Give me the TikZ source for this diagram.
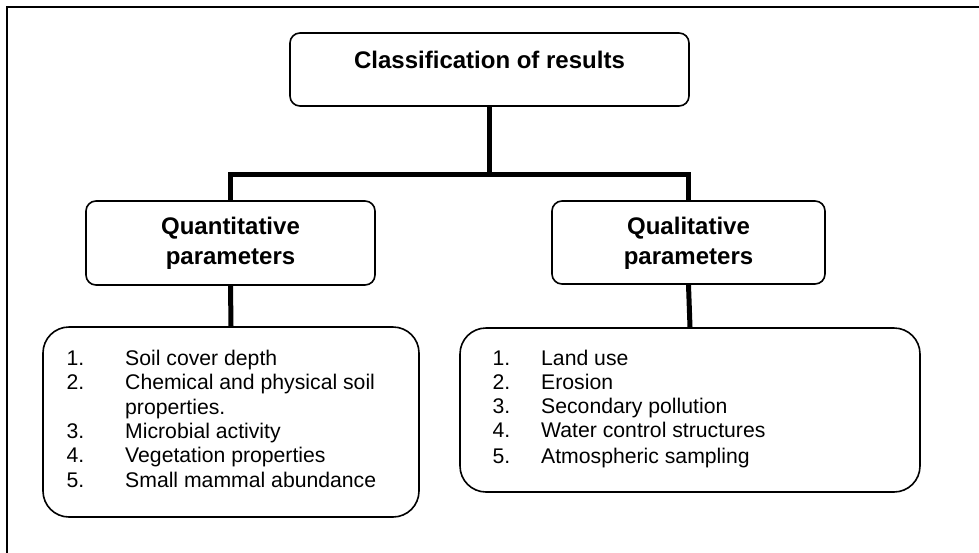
\documentclass[tikz,border=0pt]{standalone}
\usepackage{fontspec}
\setmainfont{Liberation Sans}
\begin{document}
\begin{tikzpicture}[x=1pt,y=-1pt,
  box/.style={draw, line width=1.6pt, rounded corners=10pt, inner sep=0pt, anchor=center},
  listbox/.style={draw, line width=1.6pt, rounded corners=26pt, inner sep=0pt, anchor=center},
  conn/.style={line width=5pt, line join=miter},
  frameline/.style={line width=2.5pt},
  head/.style={inner sep=0pt, anchor=base, font=\bfseries\fontsize{24}{30}\selectfont},
  item/.style={inner sep=0pt, anchor=base west, font=\fontsize{21.2}{24.3}\selectfont}]
\useasboundingbox (0,0) rectangle (979,552);
\clip (0,0) rectangle (979,552);
\fill[white] (0,0) rectangle (979,552);
\draw[frameline] (7,560) -- (7,7) -- (990,7);
% boxes
\node[box, minimum width=399pt, minimum height=73pt] (top) at (489.5,69.5) {};
\node[box, minimum width=289pt, minimum height=84pt] (qn) at (230.5,243) {};
\node[box, minimum width=273pt, minimum height=83pt] (ql) at (688.5,242.5) {};
\node[listbox, minimum width=376pt, minimum height=190pt] (l1) at (231,422) {};
\node[listbox, minimum width=460pt, minimum height=164pt] (l2) at (690,410) {};
% connectors
\coordinate (jl) at (230.5,174);
\coordinate (jr) at (688.5,174);
\draw[conn] (top.south) -- (top.south |- jl);
\draw[conn] (qn.north) -- (jl) -- (jr) -- (ql.north);
\draw[conn] (qn.south) -- (l1.north);
\draw[conn] (ql.south) -- (l2.north);
% headings
\node[head] (ttop) at (489.5,68) {Classification of results};
\node[head] (tqn1) at (230.5,234.5) {Quantitative};
\node[head] (tqn2) at (230.5,264.5) {parameters};
\node[head] (tql1) at (688.5,234.5) {Qualitative};
\node[head] (tql2) at (688.5,264.5) {parameters};
% left list
\node[item] (a1n) at (66.5,365.5) {1.};
\node[item] (a1) at (125,365.5) {Soil cover depth};
\node[item] (a2n) at (66.5,389.8) {2.};
\node[item] (a2) at (125,389.8) {Chemical and physical soil};
\node[item] (a2b) at (125,414.1) {properties.};
\node[item] (a3n) at (66.5,438.4) {3.};
\node[item] (a3) at (125,438.4) {Microbial activity};
\node[item] (a4n) at (66.5,462.7) {4.};
\node[item] (a4) at (125,462.7) {Vegetation properties};
\node[item] (a5n) at (66.5,487) {5.};
\node[item] (a5) at (125,487) {Small mammal abundance};
% right list
\node[item] (b1n) at (492.5,365) {1.};
\node[item] (b1) at (541,365) {Land use};
\node[item] (b2n) at (492.5,389.4) {2.};
\node[item] (b2) at (541,389.4) {Erosion};
\node[item] (b3n) at (492.5,413.6) {3.};
\node[item] (b3) at (541,413.6) {Secondary pollution};
\node[item] (b4n) at (492.5,437.8) {4.};
\node[item] (b4) at (541,437.8) {Water control structures};
\node[item] (b5n) at (492.5,463.5) {5.};
\node[item] (b5) at (541,463.5) {Atmospheric sampling};
\end{tikzpicture}
\end{document}
